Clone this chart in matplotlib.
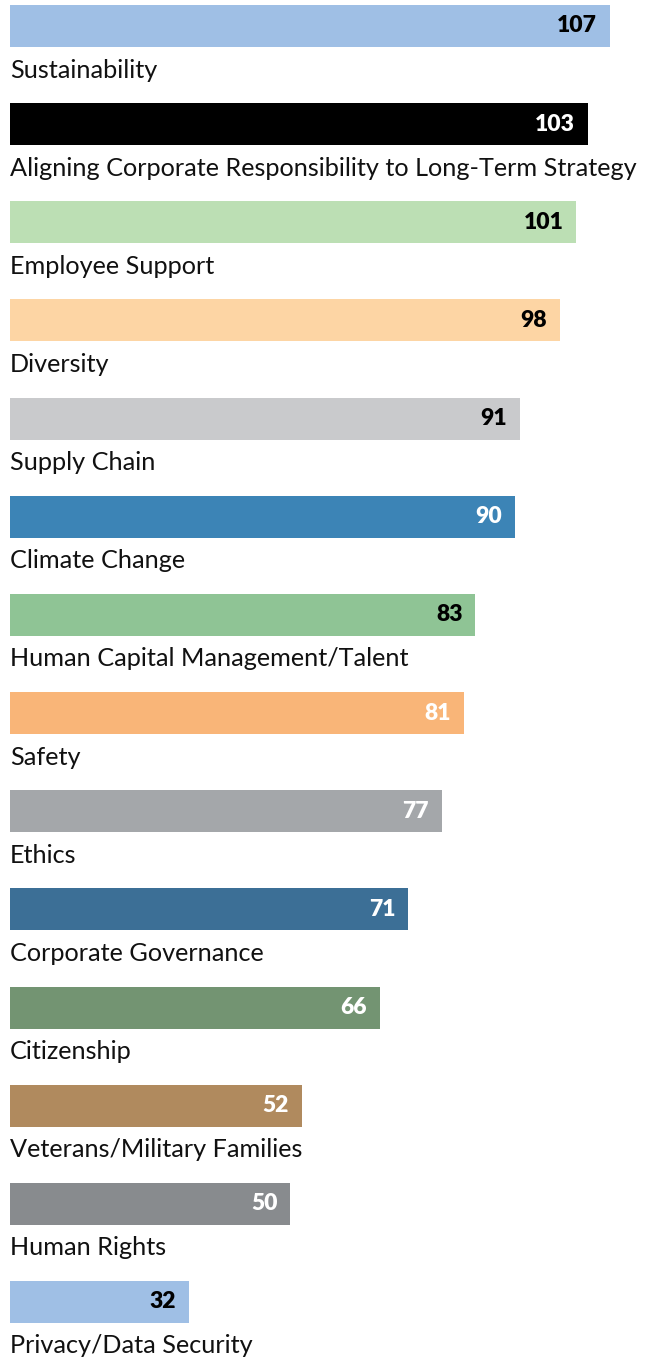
import matplotlib
matplotlib.use("Agg")
import matplotlib.pyplot as plt

# ---------------------------------------------------------
# data
# ---------------------------------------------------------

topics = [
    "Sustainability",
    "Aligning Corporate Responsibility to Long-Term Strategy",
    "Employee Support",
    "Diversity",
    "Supply Chain",
    "Climate Change",
    "Human Capital Management/Talent",
    "Safety",
    "Ethics",
    "Corporate Governance",
    "Citizenship",
    "Veterans/Military Families",
    "Human Rights",
    "Privacy/Data Security",
]

counts = [107, 103, 101, 98, 91, 90, 83, 81, 77, 71, 66, 52, 50, 32]

bar_colors = [
    "#9fbfe5", "#000000", "#bcdfb4", "#fdd5a4", "#c9cacc",
    "#3c84b6", "#8fc495", "#f9b578", "#a4a7aa", "#3c6f96",
    "#739472", "#b08a5e", "#888b8e", "#9fbfe5",
]

value_colors = [
    "black", "white", "black", "black", "black",
    "white", "black", "white", "white", "white",
    "white", "white", "white", "black",
]

# ---------------------------------------------------------
# plot
# ---------------------------------------------------------

plt.rcParams["font.family"] = ["Lato", "DejaVu Sans"]

W, H = 654, 1363
fig = plt.figure(figsize=(W / 100, H / 100), dpi=100)
ax = fig.add_axes([0, 0, 1, 1])

px_x = 600 / 107          # pixels per unit along x
step = 98.15              # pixels between rows
first = 26                # centre of first bar, pixels

ax.set_xlim(-10 / px_x, (W - 10) / px_x)
ax.set_ylim((H - first) / step, -first / step)

ypos = list(range(len(topics)))

ax.barh(ypos, counts, height=42 / step, color=bar_colors, left=0)

for i in ypos:
    ax.text(counts[i] - 13 / px_x, i, str(counts[i]),
            ha="right", va="center", fontsize=16.5, fontweight="heavy",
            color=value_colors[i])
    ax.text(0, i + 44 / step, topics[i],
            ha="left", va="center", fontsize=18.2, color="#111111")

ax.axis("off")

fig.savefig("out.png", dpi=100)
